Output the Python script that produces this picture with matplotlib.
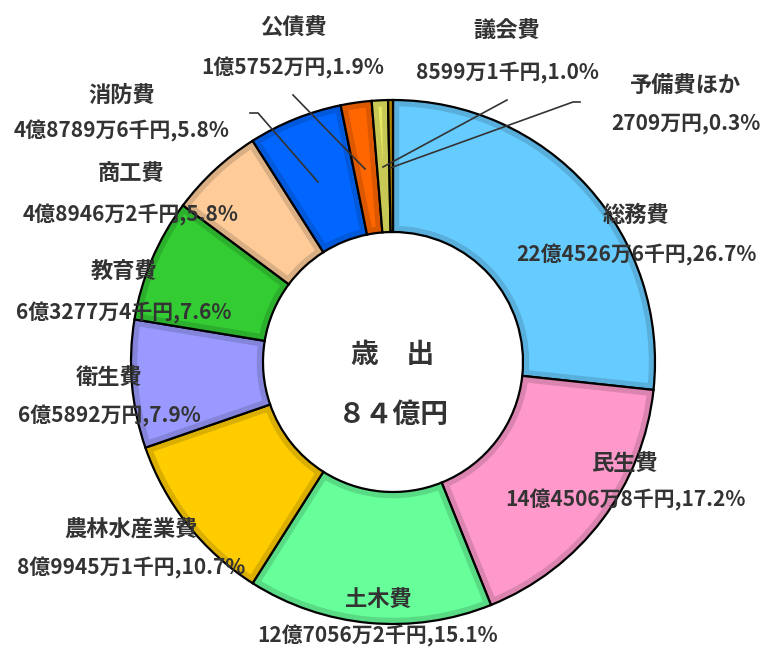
import matplotlib
matplotlib.use("Agg")
import matplotlib.pyplot as plt
from matplotlib.patches import Wedge
import matplotlib.colors as mcolors

plt.rcParams['font.family'] = ['Noto Sans CJK JP', 'DejaVu Sans']

# data
categories = ["総務費", "民生費", "土木費", "農林水産業費", "衛生費", "教育費",
              "商工費", "消防費", "公債費", "議会費", "予備費ほか"]
amounts = ["22億4526万6千円", "14億4506万8千円", "12億7056万2千円", "8億9945万1千円",
           "6億5892万円", "6億3277万4千円", "4億8946万2千円", "4億8789万6千円",
           "1億5752万円", "8599万1千円", "2709万円"]
percents = [26.7, 17.2, 15.1, 10.7, 7.9, 7.6, 5.8, 5.8, 1.9, 1.0, 0.3]
colors = ["#66CCFF", "#FF99CC", "#66FF99", "#FFCC00", "#9999FF", "#33CC33",
          "#FFCC99", "#0066FF", "#FF6600", "#E8E862", "#CC9900"]

W, H = 761, 651
fig = plt.figure(figsize=(W / 100, H / 100), dpi=100)
ax = fig.add_axes([0, 0, 1, 1])

cx, cy = 393, H - 362
R, r = 262, 130

wedges, _ = ax.pie(percents, colors=colors, startangle=90, counterclock=False,
                   center=(cx, cy), radius=R,
                   wedgeprops=dict(width=R - r, edgecolor="none"))

# inner darker band, clipped to each wedge, then black outline
for w, c in zip(wedges, colors):
    dark = tuple(v * 0.86 for v in mcolors.to_rgb(c))
    band = Wedge(w.center, w.r, w.theta1, w.theta2, width=w.width,
                 facecolor="none", edgecolor=dark, linewidth=9)
    ax.add_patch(band)
    band.set_clip_path(w)
    outline = Wedge(w.center, w.r, w.theta1, w.theta2, width=w.width,
                    facecolor="none", edgecolor="black", linewidth=1.6)
    ax.add_patch(outline)

ax.set_xlim(0, W)
ax.set_ylim(0, H)
ax.set_aspect("auto")
ax.axis("off")

txt = "#333333"

# label positions in pixel coords (x, y of name; y of value line)
label_pos = [
    (636, 215, 255),   # 総務費
    (625, 463, 500),   # 民生費
    (378, 600, 636),   # 土木費
    (131, 530, 568),   # 農林水産業費
    (109, 378, 416),   # 衛生費
    (124, 272, 313),   # 教育費
    (131, 173, 215),   # 商工費
    (122, 95, 131),    # 消防費
    (293, 28, 68),     # 公債費
    (507, 30, 72),     # 議会費
    (686, 85, 124),    # 予備費ほか
]
for name, amt, pct, (x, yn, yv) in zip(categories, amounts, percents, label_pos):
    ax.text(x, H - yn, name, ha="center", va="center", fontsize=16,
            fontweight="bold", color=txt)
    ax.text(x, H - yv, f"{amt},{pct:.1f}%", ha="center", va="center",
            fontsize=15, fontweight="bold", color=txt)

# leader lines
leaders = [
    [(250, 113), (258, 113), (318, 182)],   # 消防費
    [(293, 95), (365, 169)],                # 公債費
    [(507, 100), (383, 167)],               # 議会費
    [(580, 102), (573, 102), (390, 168)],   # 予備費ほか
]
for pts in leaders:
    xs = [p[0] for p in pts]
    ys = [H - p[1] for p in pts]
    ax.plot(xs, ys, color="#333333", linewidth=1.2)

# center text
ax.text(cx, H - 355, "歳　出", ha="center", va="center", fontsize=20,
        fontweight="bold", color=txt)
ax.text(cx, H - 415, "８４億円", ha="center", va="center", fontsize=20,
        fontweight="bold", color=txt)

fig.savefig("out.png", dpi=100)
